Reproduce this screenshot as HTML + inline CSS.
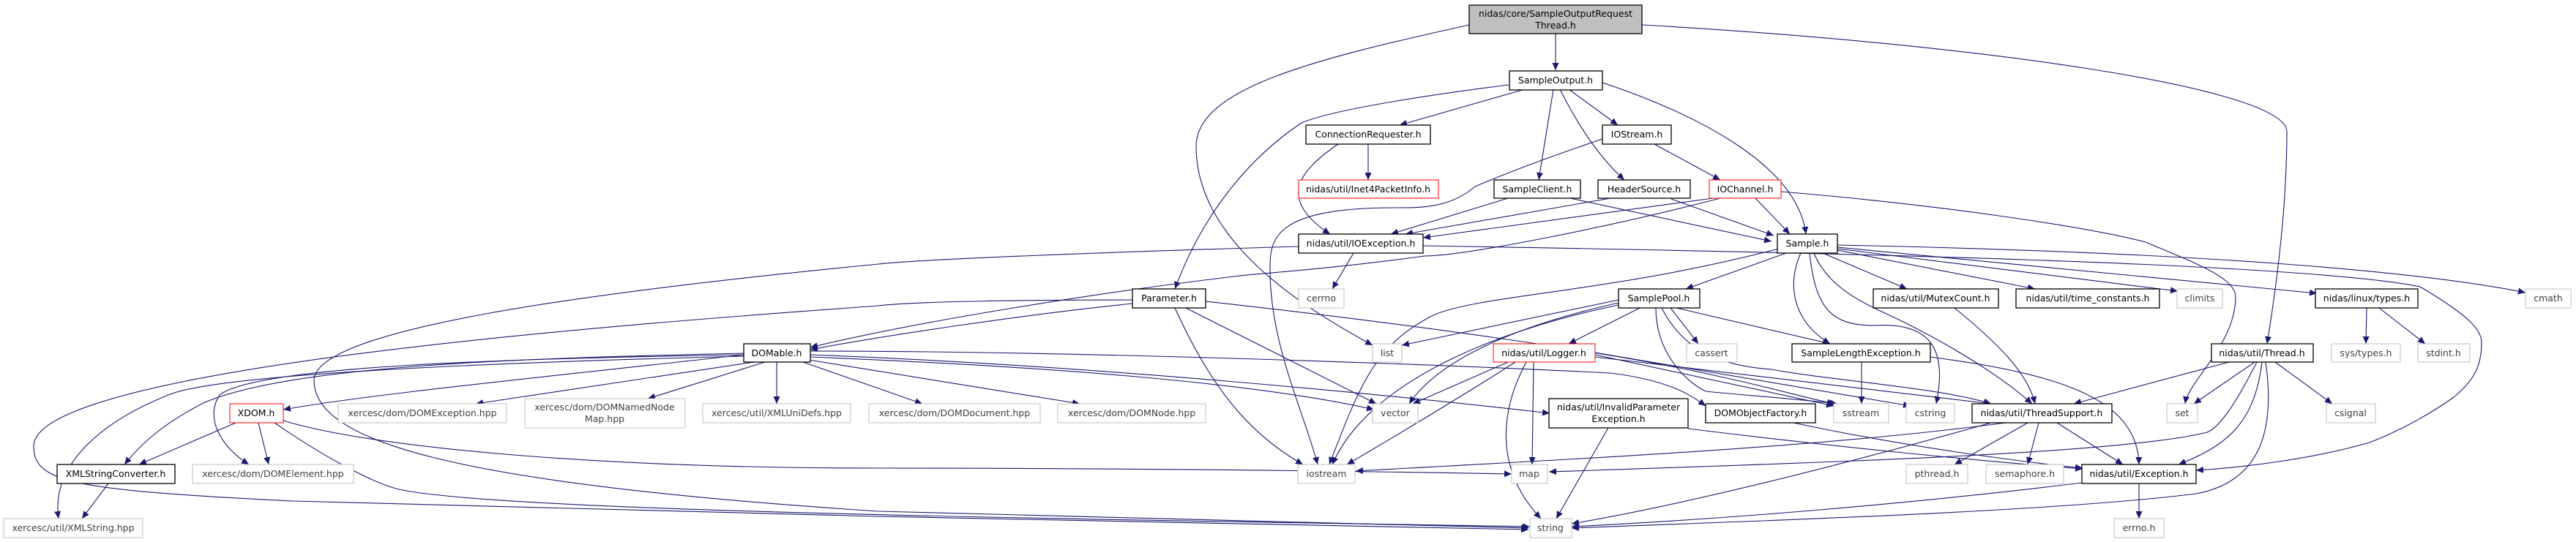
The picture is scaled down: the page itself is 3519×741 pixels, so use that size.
<!DOCTYPE html>
<html><head><meta charset="utf-8"><style>
html,body{margin:0;padding:0;background:#fff;}
svg{display:block;}
text{font-family:"DejaVu Sans","Liberation Sans",sans-serif;font-size:12.5px;fill:#000;}
.e{fill:none;stroke:#191970;stroke-width:1.1;}
.nb{fill:#fff;stroke:#000;stroke-width:1.3;}
.ng{fill:#fff;stroke:#bfbfbf;stroke-width:1;}
.nr{fill:#fff;stroke:#ff0000;stroke-width:1;}
.gt{fill:#404040;}
</style></head><body>
<svg width="3519" height="741" viewBox="0 0 3519 741" xmlns="http://www.w3.org/2000/svg">
<defs><marker id="a" markerUnits="userSpaceOnUse" markerWidth="11" markerHeight="9" refX="10" refY="4.5" orient="auto"><path d="M0,0 L10,4.5 L0,9 z" fill="#191970"/></marker></defs>
<g class="e" marker-end="url(#a)">
<path d="M2125,46 L2125,96"/>
<path d="M2007,34 C1800,80 1634,120 1634,200 C1634,330 1780,420 1875,472"/>
<path d="M2243,34 C2700,60 3124,120 3124,180 C3124,300 3105,420 3097,470"/>
<path d="M2083,122 L1912,171"/>
<path d="M2061,116 C1950,130 1820,150 1778,168 C1700,220 1640,300 1605,395"/>
<path d="M2122,122 L2102,246"/>
<path d="M2131,122 C2160,180 2190,220 2219,246"/>
<path d="M2143,122 L2210,171"/>
<path d="M2189,113 C2300,150 2455,220 2467,320"/>
<path d="M1869,197 L1869,246"/>
<path d="M1828,197 C1780,230 1740,270 1817,320"/>
<path d="M2260,197 L2350,246"/>
<path d="M2189,190 C2100,220 2050,240 2015,255 C1980,285 1940,284 1904,284 C1735,284 1735,330 1735,369 C1735,470 1780,560 1800,635"/>
<path d="M2060,271 L1900,320"/>
<path d="M2145,271 L2420,330"/>
<path d="M2200,271 L1920,320"/>
<path d="M2283,272 L2423,322"/>
<path d="M2340,271 L1944,325"/>
<path d="M2398,271 L2445,320"/>
<path d="M2433,262 C2650,280 2850,310 2931,331 C3000,360 3054,380 3054,406 C3054,470 2990,520 2985,552"/>
<path d="M2350,271 C2200,310 2000,350 1946,350 C1800,370 1700,375 1686,378 C1500,400 1250,440 1107,475"/>
<path d="M1849,346 L1820,395"/>
<path d="M1944,336 C2500,345 3150,360 3306,392 C3370,430 3390,450 3390,468 C3390,500 3380,520 3352,543 C3300,580 3250,600 3237,605 C3150,630 3050,640 3000,643"/>
<path d="M1774,337 C1500,345 1250,355 1200,361 C800,400 429,450 429,520 C429,600 600,660 1200,699 L2088,722"/>
<path d="M1547,410 C1400,410 1250,412 1200,418 C900,440 46,500 46,610 C46,660 100,670 400,685 L1200,706 L2088,724"/>
<path d="M1547,415 C1400,430 1200,460 1107,478"/>
<path d="M1605,421 C1650,520 1700,590 1780,635"/>
<path d="M1620,421 L1880,552"/>
<path d="M1647,412 C1900,440 2200,480 2350,515 C2420,530 2470,545 2506,552"/>
<path d="M2430,340 C2200,400 2030,402 1960,430 C1880,470 1860,520 1816,635"/>
<path d="M2440,346 L2303,395"/>
<path d="M2490,346 L2605,395"/>
<path d="M2510,342 L2780,395"/>
<path d="M2510,340 L2975,398"/>
<path d="M2510,338 L3165,401"/>
<path d="M2510,335 C3000,345 3300,370 3450,400"/>
<path d="M2460,346 C2440,390 2450,440 2500,470"/>
<path d="M2472,346 C2480,420 2500,445 2560,445 C2640,440 2660,480 2645,552"/>
<path d="M2478,346 C2500,400 2560,420 2600,440 C2680,480 2740,520 2776,552"/>
<path d="M2211,410 L1915,472"/>
<path d="M2240,421 L2143,470"/>
<path d="M2282,421 L2320,470"/>
<path d="M2211,414 C2050,450 1960,500 1925,552"/>
<path d="M2211,417 C2050,450 1870,520 1820,635"/>
<path d="M2290,421 L2500,470"/>
<path d="M2270,421 C2300,480 2350,500 2420,505 C2500,520 2650,530 2720,552"/>
<path d="M2262,421 C2262,480 2300,520 2330,535 C2380,540 2450,545 2510,552"/>
<path d="M2060,495 L1930,552"/>
<path d="M2070,495 C2000,540 1900,600 1840,635"/>
<path d="M2095,495 L2093,635"/>
<path d="M2085,495 C2050,560 2040,640 2105,709"/>
<path d="M2179,485 L2505,555"/>
<path d="M2179,482 L2610,555"/>
<path d="M2179,488 L2720,552"/>
<path d="M2543,495 L2543,552"/>
<path d="M2637,488 C2800,510 2920,540 2922,635"/>
<path d="M2670,421 C2730,470 2770,510 2780,552"/>
<path d="M3233,421 L3232,470"/>
<path d="M3250,421 L3313,470"/>
<path d="M3045,495 L2833,552"/>
<path d="M3080,495 L2997,552"/>
<path d="M3108,495 L3186,552"/>
<path d="M3083,495 C3050,560 3030,585 3015,591 C2900,620 2500,632 2116,645"/>
<path d="M3090,495 C3080,580 3040,610 2976,635"/>
<path d="M3095,495 C3110,600 3080,660 3000,675 C2800,700 2400,712 2147,722"/>
<path d="M2770,578 L2670,635"/>
<path d="M2785,578 L2770,635"/>
<path d="M2810,578 L2900,635"/>
<path d="M2720,578 C2500,640 2300,690 2147,716"/>
<path d="M2740,578 C2500,610 2200,625 1852,644"/>
<path d="M2844,660 C2600,690 2350,710 2147,720"/>
<path d="M2922,661 L2922,709"/>
<path d="M2450,578 C2600,610 2750,630 2845,640"/>
<path d="M2197,585 L2126,709"/>
<path d="M2306,586 C2500,610 2700,630 2845,641"/>
<path d="M1017,485 C700,520 500,540 387,560"/>
<path d="M1030,495 L650,552"/>
<path d="M1045,495 L885,545"/>
<path d="M1061,495 L1061,552"/>
<path d="M1097,495 L1260,552"/>
<path d="M1105,492 L1475,552"/>
<path d="M1107,488 C1400,500 1700,520 1877,560"/>
<path d="M1107,485 C1500,500 1900,540 2117,565"/>
<path d="M1107,480 C1500,480 2000,500 2200,510 C2280,520 2310,540 2330,555"/>
<path d="M1016,483 C700,490 400,500 280,550 C220,580 190,610 170,635"/>
<path d="M1016,485 C700,490 350,500 300,540 C280,570 300,610 340,635"/>
<path d="M1016,487 C700,495 300,510 230,540 C130,580 70,640 80,709"/>
<path d="M387,575 C500,610 800,640 1200,640 C1600,640 1900,645 2065,648"/>
<path d="M322,578 L190,635"/>
<path d="M353,578 L367,635"/>
<path d="M375,578 C450,630 520,665 550,670 C700,700 1500,710 2090,720"/>
<path d="M148,661 L112,709"/>
</g>
<g>
<rect x="2007" y="7" width="236" height="39" fill="#bfbfbf" stroke="#000" stroke-width="1.3"/>
<text x="2125" y="23" text-anchor="middle">nidas/core/SampleOutputRequest</text>
<text x="2125" y="39" text-anchor="middle">Thread.h</text>
</g>
<g id="nodes"></g>
<g>
<!-- black nodes -->
<rect class="nb" x="2062" y="97" width="127" height="26"/><text x="2125" y="114" text-anchor="middle">SampleOutput.h</text>
<rect class="nb" x="1784" y="171" width="170" height="26"/><text x="1869" y="188" text-anchor="middle">ConnectionRequester.h</text>
<rect class="nb" x="2189" y="171" width="94" height="26"/><text x="2236" y="188" text-anchor="middle">IOStream.h</text>
<rect class="nr" x="1774" y="246" width="191" height="25"/><text x="1869" y="263" text-anchor="middle">nidas/util/Inet4PacketInfo.h</text>
<rect class="nb" x="2041" y="246" width="118" height="25"/><text x="2100" y="263" text-anchor="middle">SampleClient.h</text>
<rect class="nb" x="2183" y="246" width="126" height="25"/><text x="2246" y="263" text-anchor="middle">HeaderSource.h</text>
<rect class="nr" x="2335" y="246" width="98" height="25"/><text x="2384" y="263" text-anchor="middle">IOChannel.h</text>
<rect class="nb" x="1774" y="320" width="170" height="26"/><text x="1859" y="337" text-anchor="middle">nidas/util/IOException.h</text>
<rect class="nb" x="2428" y="320" width="82" height="26"/><text x="2469" y="337" text-anchor="middle">Sample.h</text>
<rect class="nb" x="1547" y="395" width="100" height="26"/><text x="1597" y="412" text-anchor="middle">Parameter.h</text>
<rect class="ng" x="1774" y="395" width="62" height="26"/><text class="gt" x="1805" y="412" text-anchor="middle">cerrno</text>
<rect class="nb" x="2211" y="395" width="111" height="26"/><text x="2266" y="412" text-anchor="middle">SamplePool.h</text>
<rect class="nb" x="2559" y="395" width="171" height="26"/><text x="2644" y="412" text-anchor="middle">nidas/util/MutexCount.h</text>
<rect class="nb" x="2754" y="395" width="196" height="26"/><text x="2852" y="412" text-anchor="middle">nidas/util/time_constants.h</text>
<rect class="ng" x="2974" y="395" width="62" height="26"/><text class="gt" x="3005" y="412" text-anchor="middle">climits</text>
<rect class="nb" x="3163" y="395" width="140" height="26"/><text x="3233" y="412" text-anchor="middle">nidas/linux/types.h</text>
<rect class="ng" x="3450" y="395" width="62" height="26"/><text class="gt" x="3481" y="412" text-anchor="middle">cmath</text>
<rect class="nb" x="1016" y="470" width="91" height="25"/><text x="1061" y="487" text-anchor="middle">DOMable.h</text>
<rect class="ng" x="1875" y="470" width="40" height="25"/><text class="gt" x="1895" y="487" text-anchor="middle">list</text>
<rect class="nr" x="2040" y="470" width="139" height="25"/><text x="2109" y="487" text-anchor="middle">nidas/util/Logger.h</text>
<rect class="ng" x="2304" y="470" width="69" height="25"/><text class="gt" x="2338" y="487" text-anchor="middle">cassert</text>
<rect class="nb" x="2448" y="470" width="189" height="25"/><text x="2542" y="487" text-anchor="middle">SampleLengthException.h</text>
<rect class="nb" x="3021" y="470" width="139" height="25"/><text x="3090" y="487" text-anchor="middle">nidas/util/Thread.h</text>
<rect class="ng" x="3185" y="470" width="94" height="25"/><text class="gt" x="3232" y="487" text-anchor="middle">sys/types.h</text>
<rect class="ng" x="3303" y="470" width="71" height="25"/><text class="gt" x="3338" y="487" text-anchor="middle">stdint.h</text>
<rect class="nr" x="314" y="552" width="73" height="26"/><text x="350" y="569" text-anchor="middle">XDOM.h</text>
<rect class="ng" x="462" y="552" width="230" height="26"/><text class="gt" x="577" y="569" text-anchor="middle">xercesc/dom/DOMException.hpp</text>
<rect class="ng" x="717" y="545" width="219" height="40"/><text class="gt" x="826" y="561" text-anchor="middle">xercesc/dom/DOMNamedNode</text><text class="gt" x="826" y="577" text-anchor="middle">Map.hpp</text>
<rect class="ng" x="960" y="552" width="202" height="26"/><text class="gt" x="1061" y="569" text-anchor="middle">xercesc/util/XMLUniDefs.hpp</text>
<rect class="ng" x="1187" y="552" width="234" height="26"/><text class="gt" x="1304" y="569" text-anchor="middle">xercesc/dom/DOMDocument.hpp</text>
<rect class="ng" x="1445" y="552" width="202" height="26"/><text class="gt" x="1546" y="569" text-anchor="middle">xercesc/dom/DOMNode.hpp</text>
<rect class="ng" x="1875" y="552" width="62" height="26"/><text class="gt" x="1906" y="569" text-anchor="middle">vector</text>
<rect class="nb" x="2116" y="545" width="190" height="40"/><text x="2211" y="561" text-anchor="middle">nidas/util/InvalidParameter</text><text x="2211" y="577" text-anchor="middle">Exception.h</text>
<rect class="nb" x="2330" y="552" width="150" height="26"/><text x="2405" y="569" text-anchor="middle">DOMObjectFactory.h</text>
<rect class="ng" x="2505" y="552" width="75" height="26"/><text class="gt" x="2542" y="569" text-anchor="middle">sstream</text>
<rect class="ng" x="2604" y="552" width="66" height="26"/><text class="gt" x="2637" y="569" text-anchor="middle">cstring</text>
<rect class="nb" x="2694" y="552" width="191" height="26"/><text x="2789" y="569" text-anchor="middle">nidas/util/ThreadSupport.h</text>
<rect class="ng" x="2960" y="552" width="42" height="26"/><text class="gt" x="2981" y="569" text-anchor="middle">set</text>
<rect class="ng" x="3178" y="552" width="67" height="26"/><text class="gt" x="3211" y="569" text-anchor="middle">csignal</text>
<rect class="nb" x="78" y="635" width="161" height="26"/><text x="158" y="652" text-anchor="middle">XMLStringConverter.h</text>
<rect class="ng" x="263" y="635" width="220" height="26"/><text class="gt" x="373" y="652" text-anchor="middle">xercesc/dom/DOMElement.hpp</text>
<rect class="ng" x="1773" y="635" width="78" height="26"/><text class="gt" x="1812" y="652" text-anchor="middle">iostream</text>
<rect class="ng" x="2065" y="635" width="49" height="26"/><text class="gt" x="2089" y="652" text-anchor="middle">map</text>
<rect class="ng" x="2604" y="635" width="84" height="26"/><text class="gt" x="2646" y="652" text-anchor="middle">pthread.h</text>
<rect class="ng" x="2713" y="635" width="106" height="26"/><text class="gt" x="2766" y="652" text-anchor="middle">semaphore.h</text>
<rect class="nb" x="2844" y="635" width="156" height="26"/><text x="2922" y="652" text-anchor="middle">nidas/util/Exception.h</text>
<rect class="ng" x="5" y="709" width="190" height="26"/><text class="gt" x="100" y="726" text-anchor="middle">xercesc/util/XMLString.hpp</text>
<rect class="ng" x="2090" y="709" width="57" height="26"/><text class="gt" x="2118" y="726" text-anchor="middle">string</text>
<rect class="ng" x="2888" y="709" width="68" height="26"/><text class="gt" x="2922" y="726" text-anchor="middle">errno.h</text>
</g>
</svg>
</body></html>
